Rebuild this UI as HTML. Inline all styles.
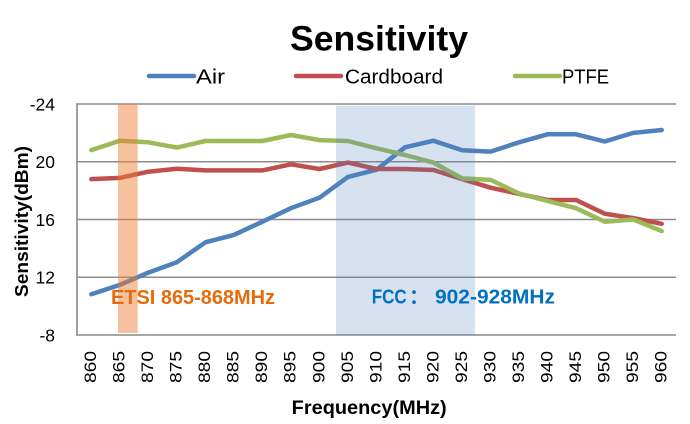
<!DOCTYPE html>
<html><head><meta charset="utf-8"><style>
html,body{margin:0;padding:0;background:#fff;}
svg{display:block;}
text{font-family:"Liberation Sans","Noto Sans CJK SC",sans-serif;}
</style></head><body>
<svg width="690" height="424" viewBox="0 0 690 424" xmlns="http://www.w3.org/2000/svg">
<rect width="690" height="424" fill="#fff"/>
<!-- title -->
<text x="290" y="50.3" font-size="35.6" font-weight="bold" fill="#000" textLength="178" lengthAdjust="spacingAndGlyphs">Sensitivity</text>
<!-- legend -->
<line x1="149" y1="76" x2="194" y2="76" stroke="#4F81BD" stroke-width="4.5" stroke-linecap="round"/>
<text x="196" y="83.3" font-size="20" fill="#000" textLength="29" lengthAdjust="spacingAndGlyphs">Air</text>
<line x1="296" y1="76" x2="341" y2="76" stroke="#C0504D" stroke-width="4.5" stroke-linecap="round"/>
<text x="345" y="83.3" font-size="20" fill="#000" textLength="98" lengthAdjust="spacingAndGlyphs">Cardboard</text>
<line x1="515" y1="76" x2="560" y2="76" stroke="#9BBB59" stroke-width="4.5" stroke-linecap="round"/>
<text x="562" y="83.3" font-size="20" fill="#000" textLength="47" lengthAdjust="spacingAndGlyphs">PTFE</text>

<!-- gridlines -->
<g stroke="#8c8c8c" stroke-width="1.4">
<line x1="77" y1="104" x2="676" y2="104"/>
<line x1="77" y1="161.75" x2="676" y2="161.75"/>
<line x1="77" y1="219.5" x2="676" y2="219.5"/>
<line x1="77" y1="277.25" x2="676" y2="277.25"/>
</g>
<line x1="77" y1="335" x2="676" y2="335" stroke="#888" stroke-width="1.6"/>
<line x1="77" y1="103.3" x2="77" y2="335.8" stroke="#888" stroke-width="1.6"/>

<!-- y tick labels -->
<g font-size="17.5" fill="#000" text-anchor="end">
<text x="55" y="110.5">-24</text>
<text x="55" y="168">20</text>
<text x="55" y="225.8">16</text>
<text x="55" y="283.5">12</text>
<text x="55" y="341.3">-8</text>
</g>

<!-- series -->
<g fill="none" stroke-width="4.5" stroke-linejoin="round" stroke-linecap="round">
<polyline stroke="#4F81BD" points="91.3,294.3 119.8,284.9 148.3,272.6 176.9,262.2 205.4,242.3 233.9,234.9 262.4,221.7 290.9,208.2 319.5,197.7 348,176.9 376.5,169.7 405,147.3 433.5,140.7 462.1,150.2 490.6,151.6 519.1,142.3 547.6,134.3 576.1,134.3 604.7,141.5 633.2,132.9 661.7,130"/>
<polyline stroke="#C0504D" points="91.3,179.1 119.8,177.9 148.3,171.7 176.9,168.7 205.4,170.4 233.9,170.4 262.4,170.4 290.9,164.3 319.5,169 348,162.6 376.5,169 405,169 433.5,170 462.1,179.1 490.6,187.7 519.1,193.9 547.6,200 576.1,200 604.7,213.7 633.2,218.1 661.7,223.8"/>
<polyline stroke="#9BBB59" points="91.3,150.1 119.8,140.7 148.3,142.3 176.9,147.6 205.4,141 233.9,141 262.4,141 290.9,135 319.5,140.1 348,141 376.5,148.3 405,155 433.5,162.6 462.1,178.4 490.6,179.9 519.1,193.5 547.6,201 576.1,208.2 604.7,221.7 633.2,219.5 661.7,231.1"/>
</g>

<!-- shaded bands -->
<rect x="118" y="104" width="19.7" height="229" fill="rgba(237,125,49,0.48)"/>
<rect x="336" y="105.7" width="139" height="229.3" fill="rgba(79,129,189,0.23)"/>

<!-- band labels -->
<text x="111" y="304" font-size="20" font-weight="bold" fill="#E46C0A" textLength="164" lengthAdjust="spacingAndGlyphs">ETSI 865-868MHz</text>
<text x="371.7" y="303.5" font-size="20" font-weight="bold" fill="#0070C0" textLength="35" lengthAdjust="spacingAndGlyphs">FCC</text>
<text x="409" y="303.5" font-size="20" font-weight="bold" fill="#0070C0" style="font-family:'Noto Sans CJK SC',sans-serif">：</text>
<text x="435" y="303.5" font-size="20" font-weight="bold" fill="#0070C0" textLength="120" lengthAdjust="spacingAndGlyphs">902-928MHz</text>

<!-- x tick labels -->
<g font-size="17" fill="#000">
<text transform="translate(96.05,383) rotate(-90)" textLength="32" lengthAdjust="spacingAndGlyphs">860</text>
<text transform="translate(124.55,383) rotate(-90)" textLength="32" lengthAdjust="spacingAndGlyphs">865</text>
<text transform="translate(153.05,383) rotate(-90)" textLength="32" lengthAdjust="spacingAndGlyphs">870</text>
<text transform="translate(181.65,383) rotate(-90)" textLength="32" lengthAdjust="spacingAndGlyphs">875</text>
<text transform="translate(210.15,383) rotate(-90)" textLength="32" lengthAdjust="spacingAndGlyphs">880</text>
<text transform="translate(238.65,383) rotate(-90)" textLength="32" lengthAdjust="spacingAndGlyphs">885</text>
<text transform="translate(267.15,383) rotate(-90)" textLength="32" lengthAdjust="spacingAndGlyphs">890</text>
<text transform="translate(295.65,383) rotate(-90)" textLength="32" lengthAdjust="spacingAndGlyphs">895</text>
<text transform="translate(324.25,383) rotate(-90)" textLength="32" lengthAdjust="spacingAndGlyphs">900</text>
<text transform="translate(352.75,383) rotate(-90)" textLength="32" lengthAdjust="spacingAndGlyphs">905</text>
<text transform="translate(381.25,383) rotate(-90)" textLength="32" lengthAdjust="spacingAndGlyphs">910</text>
<text transform="translate(409.75,383) rotate(-90)" textLength="32" lengthAdjust="spacingAndGlyphs">915</text>
<text transform="translate(438.25,383) rotate(-90)" textLength="32" lengthAdjust="spacingAndGlyphs">920</text>
<text transform="translate(466.85,383) rotate(-90)" textLength="32" lengthAdjust="spacingAndGlyphs">925</text>
<text transform="translate(495.35,383) rotate(-90)" textLength="32" lengthAdjust="spacingAndGlyphs">930</text>
<text transform="translate(523.85,383) rotate(-90)" textLength="32" lengthAdjust="spacingAndGlyphs">935</text>
<text transform="translate(552.35,383) rotate(-90)" textLength="32" lengthAdjust="spacingAndGlyphs">940</text>
<text transform="translate(580.85,383) rotate(-90)" textLength="32" lengthAdjust="spacingAndGlyphs">945</text>
<text transform="translate(609.45,383) rotate(-90)" textLength="32" lengthAdjust="spacingAndGlyphs">950</text>
<text transform="translate(637.95,383) rotate(-90)" textLength="32" lengthAdjust="spacingAndGlyphs">955</text>
<text transform="translate(666.45,383) rotate(-90)" textLength="32" lengthAdjust="spacingAndGlyphs">960</text>
</g>

<!-- axis titles -->
<text x="291.7" y="414" font-size="19" font-weight="bold" fill="#000" textLength="155" lengthAdjust="spacingAndGlyphs">Frequency(MHz)</text>
<text transform="translate(28,297) rotate(-90)" font-size="18" font-weight="bold" fill="#000" textLength="151" lengthAdjust="spacingAndGlyphs">Sensitivity(dBm)</text>
</svg>
</body></html>
